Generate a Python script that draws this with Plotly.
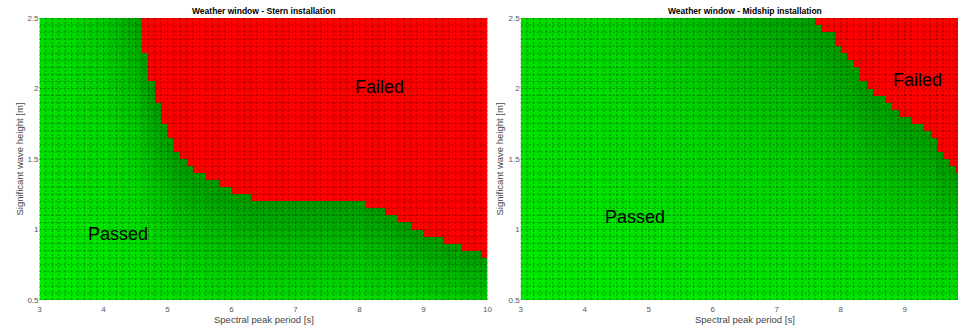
import numpy as np
import plotly.graph_objects as go

# ---- Data -----------------------------------------------------------------
# Bin edges: spectral peak period Tp [s] and significant wave height Hs [m]
tp_edges_stern = np.round(np.arange(3.0, 10.0001, 0.1), 1)     # 70 Tp bins
tp_edges_midship = np.round(np.arange(3.0, 9.9001, 0.1), 1)    # 69 Tp bins
hs_edges = np.round(np.arange(0.5, 2.5001, 0.05), 2)           # 40 Hs bins

# Allowable Hs per Tp bin (one value per Tp bin, starting at Tp = 3.0 s)
hs_limit_stern = [
    6.2, 6.0, 5.7, 5.5, 5.2, 5.0, 4.8, 4.5, 4.3, 4.0,      # 3.0 - 3.9
    3.8, 3.5, 3.2, 3.0, 2.8, 2.6, 2.25, 2.05, 1.9, 1.75,   # 4.0 - 4.9
    1.65, 1.55, 1.5, 1.45, 1.4, 1.4, 1.35, 1.35, 1.3, 1.3, # 5.0 - 5.9
    1.25, 1.25, 1.25, 1.2, 1.2, 1.2, 1.2, 1.2, 1.2, 1.2,   # 6.0 - 6.9
    1.2, 1.2, 1.2, 1.2, 1.2, 1.2, 1.2, 1.2, 1.2, 1.2,      # 7.0 - 7.9
    1.2, 1.15, 1.15, 1.15, 1.1, 1.1, 1.05, 1.05, 1.0, 1.0, # 8.0 - 8.9
    0.95, 0.95, 0.95, 0.9, 0.9, 0.9, 0.85, 0.85, 0.85, 0.8 # 9.0 - 9.9
]
hs_limit_midship = [
    6.5, 6.4, 6.3, 6.2, 6.1, 6.0, 5.9, 5.8, 5.6, 5.5,      # 3.0 - 3.9
    5.4, 5.3, 5.1, 5.0, 4.9, 4.7, 4.6, 4.5, 4.4, 4.2,      # 4.0 - 4.9
    4.1, 4.0, 3.9, 3.8, 3.7, 3.6, 3.5, 3.45, 3.4, 3.3,     # 5.0 - 5.9
    3.25, 3.2, 3.1, 3.05, 3.0, 2.95, 2.9, 2.85, 2.8, 2.75, # 6.0 - 6.9
    2.72, 2.69, 2.66, 2.62, 2.58, 2.54, 2.45, 2.4, 2.4, 2.3, # 7.0 - 7.9
    2.25, 2.2, 2.15, 2.05, 2.0, 1.95, 1.95, 1.9, 1.85, 1.8, # 8.0 - 8.9
    1.8, 1.75, 1.75, 1.7, 1.65, 1.55, 1.5, 1.45, 1.4        # 9.0 - 9.8
]

x_ticks_stern = [3, 4, 5, 6, 7, 8, 9, 10]
x_ticks_midship = [3, 4, 5, 6, 7, 8, 9]
y_ticks = [0.5, 1, 1.5, 2, 2.5]
y_tick_text = ["0.5", "1", "1.5", "2", "2.5"]

# ---- Styling ----------------------------------------------------------------
FONT = "Liberation Sans, Arial, sans-serif"
RED = "#FF0000"
# utilisation 0..1 maps to 0..0.5 of the scale (green), failed cells sit at 1
COLORSCALE = [
    [0.0, "#00F000"],
    [0.25, "#00D600"],
    [0.375, "#00BC00"],
    [0.5, "#009C00"],
    [0.5001, RED],
    [1.0, RED],
]

W, H = 958, 326
PX_PER_S = 64.0
ydom = [(H - 300) / H, (H - 18) / H]
xdom_left = [39.5 / W, 487.5 / W]
xdom_right = [520.7 / W, 1.0]
right_xmax = 3 + (W - 520.7) / PX_PER_S


def utilisation(tp_edges, limits):
    """Hs / allowable Hs at each cell's upper Hs edge; failed cells -> 2."""
    hs_top = hs_edges[1:]
    lim = np.asarray(limits, dtype=float)
    util = hs_top[:, None] / lim[None, :]
    ok = util <= 1 + 1e-9
    return np.where(ok, np.minimum(util, 1.0), 2.0)


def grid_lines(tp_edges):
    xs, ys = [], []
    for x in tp_edges:
        xs += [x, x, None]
        ys += [hs_edges[0], hs_edges[-1], None]
    for y in hs_edges:
        xs += [tp_edges[0], tp_edges[-1], None]
        ys += [y, y, None]
    return xs, ys


fig = go.Figure()

panels = [
    (tp_edges_stern, hs_limit_stern, "x", "y"),
    (tp_edges_midship, hs_limit_midship, "x2", "y2"),
]
for tp_edges, limits, xa, ya in panels:
    fig.add_trace(go.Heatmap(
        x=tp_edges, y=hs_edges, z=utilisation(tp_edges, limits),
        zmin=0, zmax=2, colorscale=COLORSCALE, showscale=False,
        hoverinfo="skip", xaxis=xa, yaxis=ya,
    ))
    gx, gy = grid_lines(tp_edges)
    fig.add_trace(go.Scatter(
        x=gx, y=gy, mode="lines", xaxis=xa, yaxis=ya,
        line=dict(color="rgba(0,0,0,0.36)", width=1, dash="2px,2px"),
        hoverinfo="skip", showlegend=False,
    ))

tick_font = dict(family=FONT, size=8, color="#555555")
axis_common = dict(showgrid=False, zeroline=False, showline=False, ticks="",
                   tickfont=tick_font, automargin=False)

fig.update_layout(
    width=W, height=H,
    margin=dict(l=0, r=0, t=0, b=0),
    paper_bgcolor="white", plot_bgcolor="white",
    showlegend=False,
    font=dict(family=FONT),
    xaxis=dict(domain=xdom_left, range=[3, 10], tickvals=x_ticks_stern,
               anchor="y", ticklabelstandoff=3, **axis_common),
    yaxis=dict(domain=ydom, range=[0.5, 2.5], tickvals=y_ticks,
               ticktext=y_tick_text, anchor="x", **axis_common),
    xaxis2=dict(domain=xdom_right, range=[3, right_xmax],
                tickvals=x_ticks_midship, anchor="y2", ticklabelstandoff=3,
                **axis_common),
    yaxis2=dict(domain=ydom, range=[0.5, 2.5], tickvals=y_ticks,
                ticktext=y_tick_text, anchor="x2", **axis_common),
)

ann = []
# Panel titles and axis titles
left_c = (39.5 + 487.5) / 2 / W
right_c = (520.7 + 520.7 + 7 * PX_PER_S) / 2 / W
for cx, title in [(left_c, "Weather window - Stern installation"),
                  (right_c, "Weather window - Midship installation")]:
    ann.append(dict(x=cx, y=(H - 10.5) / H, xref="paper", yref="paper",
                    xanchor="center", yanchor="middle",
                    text=f"<b>{title}</b>", showarrow=False,
                    font=dict(family=FONT, size=8.5, color="black")))
    ann.append(dict(x=cx, y=(H - 319.5) / H, xref="paper", yref="paper",
                    xanchor="center", yanchor="middle",
                    text="Spectral peak period [s]", showarrow=False,
                    font=dict(family=FONT, size=9.5, color="#444444")))
for px in (18.5, 498.5):
    ann.append(dict(x=px / W, y=(H - 159) / H, xref="paper", yref="paper",
                    xanchor="center", yanchor="middle",
                    text="Significant wave height [m]", showarrow=False,
                    textangle=-90,
                    font=dict(family=FONT, size=9.5, color="#444444")))

# Region labels
for xa, ya, x, y, txt in [("x", "y", 4.23, 0.97, "Passed"),
                          ("x", "y", 8.31, 2.01, "Failed"),
                          ("x2", "y2", 4.78, 1.09, "Passed"),
                          ("x2", "y2", 9.20, 2.06, "Failed")]:
    ann.append(dict(x=x, y=y, xref=xa, yref=ya, text=txt, showarrow=False,
                    xanchor="center", yanchor="middle",
                    font=dict(family=FONT, size=18, color="black")))

fig.update_layout(annotations=ann)
fig.write_html("out.html")
